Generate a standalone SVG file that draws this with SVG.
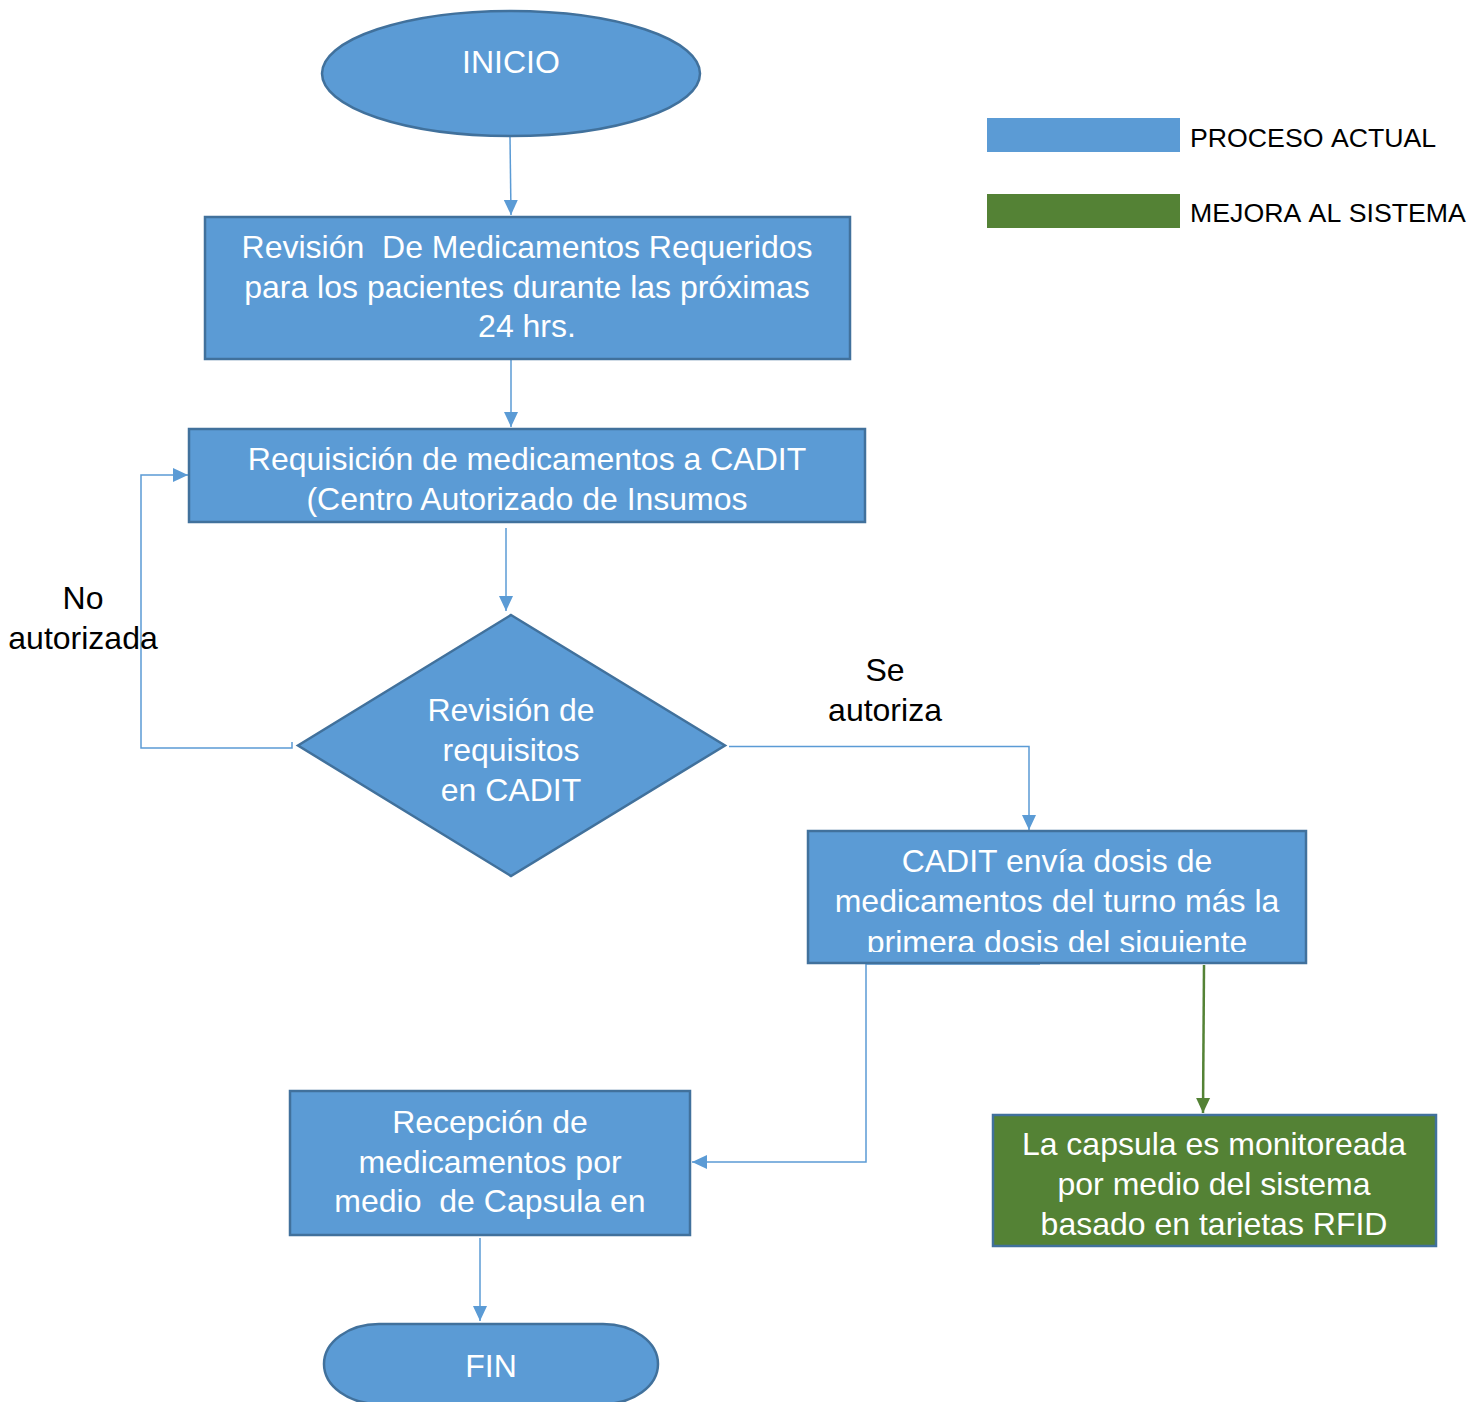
<svg xmlns="http://www.w3.org/2000/svg" width="1478" height="1402" viewBox="0 0 1478 1402">
<style>
.shape{fill:#5B9BD5;stroke:#41719C;stroke-width:2.5}
.green{fill:#548235;stroke:#41719C;stroke-width:2.5}
.t{font-family:"Liberation Sans",Arial,sans-serif;font-size:32px;fill:#FFFFFF;text-anchor:middle;white-space:pre}
.lbl{font-family:"Liberation Sans",Arial,sans-serif;font-size:32px;fill:#000000;text-anchor:middle}
.leg{font-family:"Liberation Sans",Arial,sans-serif;font-size:26.7px;fill:#000000;font-kerning:none}
.c{fill:none;stroke:#5B9BD5;stroke-width:1.5}
.cg{fill:none;stroke:#548235;stroke-width:2.5}
</style>
<defs>
<marker id="ab" markerUnits="userSpaceOnUse" markerWidth="16" markerHeight="16" viewBox="0 0 16 16" refX="15" refY="8" orient="auto">
<path d="M0,1 L15,8 L0,15 Z" fill="#5B9BD5"/>
</marker>
<marker id="ag" markerUnits="userSpaceOnUse" markerWidth="16" markerHeight="16" viewBox="0 0 16 16" refX="15" refY="8" orient="auto">
<path d="M0,1 L15,8 L0,15 Z" fill="#548235"/>
</marker>
<clipPath id="clip3"><rect x="808" y="831" width="498" height="121"/></clipPath>
<clipPath id="clip4"><rect x="290" y="1091" width="400" height="143"/></clipPath>
<clipPath id="clip5"><rect x="993" y="1115" width="443" height="122"/></clipPath>
</defs>

<g id="legend">
<rect x="987" y="118" width="193" height="34" fill="#5B9BD5"/>
<text class="leg" x="1190" y="147">PROCESO ACTUAL</text>
<rect x="987" y="194" width="193" height="34" fill="#548235"/>
<text class="leg" x="1190" y="222">MEJORA AL SISTEMA</text>
</g>

<g id="connectors">
<path class="c" d="M510,137 L511,215" marker-end="url(#ab)"/>
<path class="c" d="M511,360 L511,427" marker-end="url(#ab)"/>
<path class="c" d="M506,528 L506,611" marker-end="url(#ab)"/>
<path class="c" d="M292,742 V748 H141 V475 H188" marker-end="url(#ab)"/>
<path class="c" d="M729,746.5 H1029 V830" marker-end="url(#ab)"/>
<path class="c" d="M1040,964 H866 V1162 H692" marker-end="url(#ab)"/>
<path class="cg" d="M1204,965 L1203,1113" marker-end="url(#ag)"/>
<path class="c" d="M480,1238 L480,1321" marker-end="url(#ab)"/>
</g>

<g id="inicio">
<ellipse class="shape" cx="511" cy="73.5" rx="189" ry="62.5"/>
<text class="t" x="511" y="73">INICIO</text>
</g>

<g id="revision-medicamentos">
<rect class="shape" x="205" y="217" width="645" height="142"/>
<text class="t" x="527" y="258" xml:space="preserve">Revisión  De Medicamentos Requeridos</text>
<text class="t" x="527" y="298">para los pacientes durante las próximas</text>
<text class="t" x="527" y="337">24 hrs.</text>
</g>

<g id="requisicion">
<rect class="shape" x="189" y="429" width="676" height="93"/>
<text class="t" x="527" y="470">Requisición de medicamentos a CADIT</text>
<text class="t" x="527" y="510">(Centro Autorizado de Insumos</text>
</g>

<g id="decision">
<polygon class="shape" points="511,615 725,745.5 511,876 298,745.5"/>
<text class="t" x="511" y="721">Revisión de</text>
<text class="t" x="511" y="761">requisitos</text>
<text class="t" x="511" y="801">en CADIT</text>
</g>

<g id="label-no">
<text class="lbl" x="83" y="609">No</text>
<text class="lbl" x="83" y="649">autorizada</text>
</g>

<g id="label-si">
<text class="lbl" x="885" y="681">Se</text>
<text class="lbl" x="885" y="721">autoriza</text>
</g>

<g id="cadit-envia">
<rect class="shape" x="808" y="831" width="498" height="132"/>
<g clip-path="url(#clip3)">
<text class="t" x="1057" y="872">CADIT envía dosis de</text>
<text class="t" x="1057" y="912">medicamentos del turno más la</text>
<text class="t" x="1057" y="953">primera dosis del siguiente</text>
</g>
</g>

<g id="recepcion">
<rect class="shape" x="290" y="1091" width="400" height="144"/>
<g clip-path="url(#clip4)">
<text class="t" x="490" y="1133">Recepción de</text>
<text class="t" x="490" y="1173">medicamentos por</text>
<text class="t" x="490" y="1212" xml:space="preserve">medio  de Capsula en</text>
</g>
</g>

<g id="monitoreo">
<rect class="green" x="993" y="1115" width="443" height="131"/>
<g clip-path="url(#clip5)">
<text class="t" x="1214" y="1155">La capsula es monitoreada</text>
<text class="t" x="1214" y="1195">por medio del sistema</text>
<text class="t" x="1214" y="1235">basado en tarjetas RFID</text>
</g>
</g>

<g id="fin">
<rect class="shape" x="324" y="1324" width="334" height="80" rx="55" ry="40"/>
<text class="t" x="491" y="1377">FIN</text>
</g>
</svg>
